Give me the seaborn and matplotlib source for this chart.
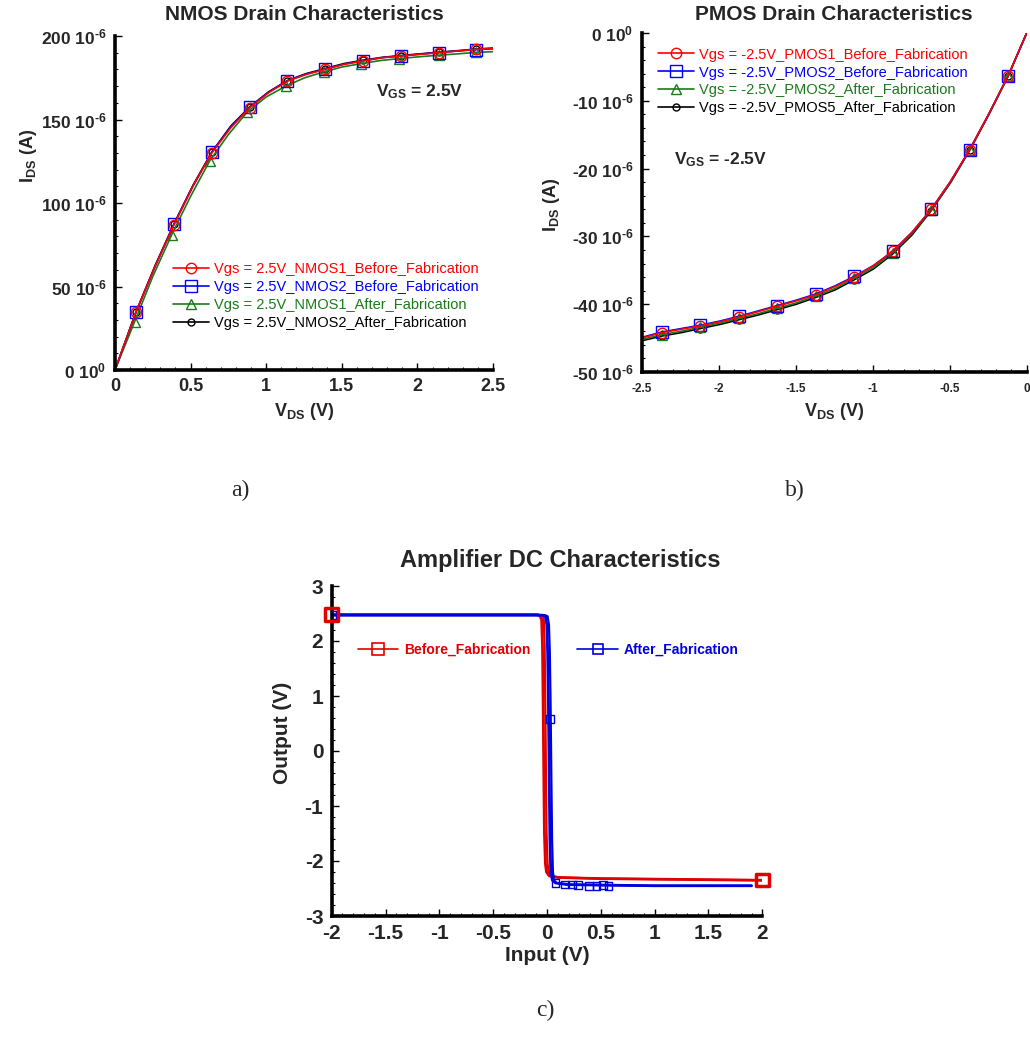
import numpy as np
import matplotlib
matplotlib.use("Agg")
import matplotlib.pyplot as plt
from matplotlib.lines import Line2D
from matplotlib.ticker import FixedLocator, MultipleLocator
import seaborn as sns

# ---------------- data ----------------
# NMOS drain characteristics (currents in uA)
nmos_vds = [0.0, 0.14, 0.265, 0.39, 0.515, 0.64, 0.765, 0.89, 1.015, 1.14, 1.265,
            1.39, 1.515, 1.64, 1.765, 1.89, 2.015, 2.14, 2.265, 2.39, 2.5]
nmos_vds_green = [0.0, 0.13, 0.25, 0.375, 0.5, 0.625, 0.75, 0.875, 1.0, 1.13, 1.255,
                  1.38, 1.505, 1.63, 1.755, 1.88, 2.005, 2.14, 2.265, 2.39, 2.5]
nmos1_before = [0, 35, 62, 87, 110, 130, 145, 157, 166, 173, 177,
                180, 183, 185, 187, 188, 189, 190, 191, 192, 192.5]
nmos2_before = [0, 35, 62, 87.3, 110, 130.3, 145.5, 157.3, 166.3, 173.2, 177.2,
                180.2, 183.2, 185.2, 187, 188.1, 189.1, 190.1, 191, 191.9, 192.3]
nmos1_after = [0, 29, 56, 81, 104, 125, 141, 154.5, 163.5, 170, 175,
               178.5, 181.5, 183.5, 185.3, 186.5, 187.5, 188.5, 189.3, 190.2, 190.6]
nmos2_after = [0, 35, 62.5, 87.5, 110.5, 130.5, 146, 157.5, 166.5, 173.3, 177.5,
               180.5, 183.5, 185.5, 187.2, 188.3, 189.3, 190.3, 191.2, 192.2, 192.8]
nmos_labels = ["Vgs = 2.5V_NMOS1_Before_Fabrication",
               "Vgs = 2.5V_NMOS2_Before_Fabrication",
               "Vgs = 2.5V_NMOS1_After_Fabrication",
               "Vgs = 2.5V_NMOS2_After_Fabrication"]
nmos_yticks = [0, 50, 100, 150, 200]
nmos_yticklabels = [r"0 10$^{\text{0}}$", r"50 10$^{\text{-6}}$", r"100 10$^{\text{-6}}$",
                    r"150 10$^{\text{-6}}$", r"200 10$^{\text{-6}}$"]
nmos_xticks = [0, 0.5, 1, 1.5, 2, 2.5]
nmos_xticklabels = ["0", "0.5", "1", "1.5", "2", "2.5"]

# PMOS drain characteristics (currents in uA)
pmos_vds = [-2.5, -2.37, -2.245, -2.12, -1.995, -1.87, -1.745, -1.62, -1.495, -1.37, -1.245,
            -1.12, -0.995, -0.87, -0.745, -0.62, -0.495, -0.37, -0.245, -0.12, 0.0]
pmos1_before = [-45.0, -44.2, -43.7, -43.2, -42.6, -41.9, -41.1, -40.3, -39.5, -38.6, -37.4,
                -36.0, -34.3, -32.2, -29.4, -26.0, -21.9, -17.2, -11.9, -6.3, 0.0]
pmos2_before = [-44.9, -44.1, -43.6, -43.1, -42.5, -41.8, -41.0, -40.2, -39.4, -38.5, -37.3,
                -35.9, -34.3, -32.2, -29.4, -26.0, -21.9, -17.2, -11.9, -6.3, 0.0]
pmos2_after = [-45.2, -44.5, -44.0, -43.4, -42.8, -42.1, -41.4, -40.6, -39.8, -38.8, -37.7,
               -36.2, -34.6, -32.4, -29.6, -26.1, -22.0, -17.2, -11.9, -6.3, 0.0]
pmos5_after = [-45.4, -44.7, -44.2, -43.6, -43.0, -42.3, -41.6, -40.8, -40.0, -39.0, -37.9,
               -36.4, -34.8, -32.6, -29.8, -26.2, -22.1, -17.3, -12.0, -6.3, 0.0]
pmos_labels = ["Vgs = -2.5V_PMOS1_Before_Fabrication",
               "Vgs = -2.5V_PMOS2_Before_Fabrication",
               "Vgs = -2.5V_PMOS2_After_Fabrication",
               "Vgs = -2.5V_PMOS5_After_Fabrication"]
pmos_yticks = [-50, -40, -30, -20, -10, 0]
pmos_yticklabels = [r"-50 10$^{\text{-6}}$", r"-40 10$^{\text{-6}}$", r"-30 10$^{\text{-6}}$",
                    r"-20 10$^{\text{-6}}$", r"-10 10$^{\text{-6}}$", r"0 10$^{\text{0}}$"]
pmos_xticks = [-2.5, -2, -1.5, -1, -0.5, 0]
pmos_xticklabels = ["-2.5", "-2", "-1.5", "-1", "-0.5", "0"]

# Amplifier DC characteristics
amp_before_x1 = [-2.0, -0.10, -0.065, -0.05, -0.042, -0.036, -0.03, -0.024, -0.015, -0.005, 0.02, 0.1, 0.5, 1.0, 2.0]
amp_before_y1 = [2.48, 2.48, 2.46, 2.38, 1.9, 0.9, -0.4, -1.5, -2.05, -2.2, -2.27, -2.3, -2.32, -2.33, -2.35]
amp_before_x2 = [-2.0, -0.08, -0.045, -0.03, -0.022, -0.016, -0.01, -0.004, 0.005, 0.015, 0.04, 0.12, 0.5, 1.0, 2.0]
amp_before_y2 = [2.48, 2.48, 2.46, 2.38, 1.9, 0.9, -0.4, -1.5, -2.05, -2.2, -2.27, -2.3, -2.32, -2.33, -2.35]
amp_after_x1 = [-2.0, -0.04, -0.015, -0.002, 0.006, 0.013, 0.02, 0.027, 0.035, 0.05, 0.08, 0.2, 0.6, 1.0, 1.9]
amp_after_y1 = [2.47, 2.47, 2.45, 2.3, 1.8, 0.9, -0.4, -1.6, -2.2, -2.35, -2.4, -2.43, -2.44, -2.45, -2.45]
amp_after_x2 = [-2.0, -0.02, 0.005, 0.018, 0.026, 0.033, 0.04, 0.047, 0.055, 0.065, 0.09, 0.2, 0.6, 1.0, 1.9]
amp_after_y2 = [2.47, 2.47, 2.45, 2.3, 1.8, 0.9, -0.4, -1.6, -2.2, -2.35, -2.4, -2.43, -2.44, -2.45, -2.45]
amp_before_mark_x = [-2.0, 2.0]
amp_before_mark_y = [2.48, -2.35]
amp_after_mark_x = [-2.0, 0.03, 0.08, 0.165, 0.23, 0.29, 0.39, 0.46, 0.52, 0.57]
amp_after_mark_y = [2.47, 0.58, -2.40, -2.43, -2.43, -2.44, -2.45, -2.45, -2.44, -2.45]
amp_labels = ["Before_Fabrication", "After_Fabrication"]
amp_yticks = [-3, -2, -1, 0, 1, 2, 3]
amp_xticks = [-2, -1.5, -1, -0.5, 0, 0.5, 1, 1.5, 2]
amp_xticklabels = ["-2", "-1.5", "-1", "-0.5", "0", "0.5", "1", "1.5", "2"]

# ---------------- style ----------------
sns.set_theme(style="ticks")
plt.rcParams["font.family"] = ["Liberation Sans", "DejaVu Sans"]
plt.rcParams["axes.unicode_minus"] = False
plt.rcParams["mathtext.fontset"] = "custom"
plt.rcParams["mathtext.rm"] = "Liberation Sans:bold"
plt.rcParams["mathtext.bf"] = "Liberation Sans:bold"
plt.rcParams["mathtext.it"] = "Liberation Sans:bold"
plt.rcParams["mathtext.default"] = "bf"

RED = "#ff0000"
BLUE = "#0000ff"
GREEN = "#1a7a1a"
BLACK = "#000000"
AMP_RED = "#e00000"
AMP_BLUE = "#0000dd"

W, H = 1030, 1049
fig = plt.figure(figsize=(W / 100, H / 100), dpi=100)


def axes_px(left, top, right, bottom):
    return fig.add_axes([left / W, 1 - bottom / H, (right - left) / W, (bottom - top) / H])


def style_axes(ax, xfs, yfs, xminor, yminor):
    for s in ["top", "right"]:
        ax.spines[s].set_visible(False)
    for s in ["left", "bottom"]:
        ax.spines[s].set_linewidth(2.6)
        ax.spines[s].set_color("black")
    ax.tick_params(which="major", direction="in", length=5, width=1, color="black", pad=6)
    ax.tick_params(axis="x", labelsize=xfs)
    ax.tick_params(axis="y", labelsize=yfs)
    ax.tick_params(which="minor", direction="in", length=2.5, width=0.8, color="black")
    ax.xaxis.set_minor_locator(MultipleLocator(xminor))
    ax.yaxis.set_minor_locator(MultipleLocator(yminor))
    for lab in ax.get_xticklabels() + ax.get_yticklabels():
        lab.set_fontweight("bold")
    ax.set_facecolor("white")
    ax.grid(False)


def curve(ax, x, y, color, marker, ms, label, lw=1.2, mew=1.0):
    sns.lineplot(x=x, y=y, ax=ax, color=color, lw=lw, marker=marker, markersize=ms,
                 markevery=slice(1, len(x) - 1, 2), mfc="none", mec=color, mew=mew,
                 label=label, sort=False, estimator=None)


LEG_KW = dict(loc="upper left", frameon=False, fontsize=10.5, borderpad=0, borderaxespad=0,
              handlelength=2.5, handletextpad=0.3, labelspacing=0.27, labelcolor="linecolor")

# ---------------- (a) NMOS ----------------
axa = axes_px(115, 36, 493, 370)
curve(axa, nmos_vds, nmos2_after, BLACK, "o", 5, nmos_labels[3])
curve(axa, nmos_vds_green, nmos1_after, GREEN, "^", 6.5, nmos_labels[2])
curve(axa, nmos_vds, nmos2_before, BLUE, "s", 8, nmos_labels[1])
curve(axa, nmos_vds, nmos1_before, RED, "o", 7.5, nmos_labels[0])
axa.set_xlim(0, 2.5)
axa.set_ylim(0, 200)
axa.xaxis.set_major_locator(FixedLocator(nmos_xticks))
axa.set_xticklabels(nmos_xticklabels)
axa.yaxis.set_major_locator(FixedLocator(nmos_yticks))
axa.set_yticklabels(nmos_yticklabels)
style_axes(axa, 13, 12.5, 0.1, 10)
axa.set_xlabel("V$_{DS}$ (V)", fontsize=13, fontweight="bold")
axa.set_ylabel("I$_{DS}$ (A)", fontsize=13, fontweight="bold")
axa.xaxis.set_label_coords(0.5, -0.093)
axa.yaxis.set_label_coords(-0.2, 0.64)
h, l = axa.get_legend_handles_labels()
order = [l.index(t) for t in nmos_labels]
axa.legend([h[i] for i in order], [l[i] for i in order],
           bbox_to_anchor=(0.153, 0.322), **LEG_KW)
axa.text(0.69, 0.832, "V$_{GS}$ = 2.5V", transform=axa.transAxes, fontsize=12.5,
         fontweight="bold", va="center", ha="left")
fig.text(304 / W, 1 - 15 / H, "NMOS Drain Characteristics", ha="center", va="center",
         fontsize=15, fontweight="bold")

# ---------------- (b) PMOS ----------------
axb = axes_px(641.7, 33, 1026.7, 372)
curve(axb, pmos_vds, pmos5_after, BLACK, "o", 5, pmos_labels[3])
curve(axb, pmos_vds, pmos2_after, GREEN, "^", 6.5, pmos_labels[2])
curve(axb, pmos_vds, pmos2_before, BLUE, "s", 8, pmos_labels[1])
curve(axb, pmos_vds, pmos1_before, RED, "o", 7.5, pmos_labels[0])
axb.set_xlim(-2.5, 0)
axb.set_ylim(-50, 0)
axb.xaxis.set_major_locator(FixedLocator(pmos_xticks))
axb.set_xticklabels(pmos_xticklabels)
axb.yaxis.set_major_locator(FixedLocator(pmos_yticks))
axb.set_yticklabels(pmos_yticklabels)
style_axes(axb, 8.5, 12.5, 0.1, 2)
axb.tick_params(axis="x", pad=8)
axb.set_xlabel("V$_{DS}$ (V)", fontsize=13, fontweight="bold")
axb.set_ylabel("I$_{DS}$ (A)", fontsize=13, fontweight="bold")
axb.xaxis.set_label_coords(0.5, -0.086)
axb.yaxis.set_label_coords(-0.207, 0.493)
h, l = axb.get_legend_handles_labels()
order = [l.index(t) for t in pmos_labels]
axb.legend([h[i] for i in order], [l[i] for i in order],
           bbox_to_anchor=(0.042, 0.957), **LEG_KW)
axb.text(0.084, 0.625, "V$_{GS}$ = -2.5V", transform=axb.transAxes, fontsize=12.5,
         fontweight="bold", va="center", ha="left")
fig.text(834 / W, 1 - 15 / H, "PMOS Drain Characteristics", ha="center", va="center",
         fontsize=15, fontweight="bold")

# ---------------- (c) Amplifier ----------------
axc = axes_px(331.7, 586, 762.3, 916)
sns.lineplot(x=amp_before_x1, y=amp_before_y1, ax=axc, color=AMP_RED, lw=2.0,
             sort=False, estimator=None)
sns.lineplot(x=amp_before_x2, y=amp_before_y2, ax=axc, color=AMP_RED, lw=1.6,
             sort=False, estimator=None)
sns.lineplot(x=amp_after_x1, y=amp_after_y1, ax=axc, color=AMP_BLUE, lw=2.0,
             sort=False, estimator=None)
sns.lineplot(x=amp_after_x2, y=amp_after_y2, ax=axc, color=AMP_BLUE, lw=1.6,
             sort=False, estimator=None)
sns.scatterplot(x=amp_after_mark_x, y=amp_after_mark_y, ax=axc, marker="s", s=30,
                facecolors="none", edgecolor=AMP_BLUE, linewidth=1.0, zorder=4)
sns.scatterplot(x=amp_before_mark_x, y=amp_before_mark_y, ax=axc, marker="s", s=80,
                facecolors="none", edgecolor=AMP_RED, linewidth=2.5, zorder=5,
                clip_on=False)
axc.set_xlim(-2, 2)
axc.set_ylim(-3, 3)
axc.xaxis.set_major_locator(FixedLocator(amp_xticks))
axc.set_xticklabels(amp_xticklabels)
axc.yaxis.set_major_locator(FixedLocator(amp_yticks))
axc.set_yticklabels([str(v) for v in amp_yticks])
style_axes(axc, 15, 15, 0.1, 0.2)
axc.set_xlabel("Input (V)", fontsize=15, fontweight="bold")
axc.set_ylabel("Output (V)", fontsize=15, fontweight="bold")
axc.xaxis.set_label_coords(0.5, -0.092)
axc.yaxis.set_label_coords(-0.092, 0.555)
amp_handles = [Line2D([], [], color=AMP_RED, lw=1.2, marker="s", ms=9, mfc="none",
                      mec=AMP_RED, mew=1.2),
               Line2D([], [], color=AMP_BLUE, lw=1.2, marker="s", ms=7, mfc="none",
                      mec=AMP_BLUE, mew=1.2)]
axc.legend(amp_handles, amp_labels, loc="center left", bbox_to_anchor=(0.061, 0.806),
           ncol=2, frameon=False, borderpad=0, borderaxespad=0, handlelength=2.9,
           handletextpad=0.4, columnspacing=3.4, labelcolor="linecolor",
           prop={"size": 10, "weight": "bold"})
fig.text(560 / W, 1 - 560 / H, "Amplifier DC Characteristics", ha="center", va="center",
         fontsize=17, fontweight="bold")

# panel labels
for txt, x, y in [("a)", 240, 490), ("b)", 795, 490), ("c)", 545, 1010)]:
    fig.text(x / W, 1 - y / H, txt, ha="center", va="center", fontsize=17,
             family=["Liberation Serif", "DejaVu Serif"])

fig.savefig("out.png", dpi=100, facecolor="white")
